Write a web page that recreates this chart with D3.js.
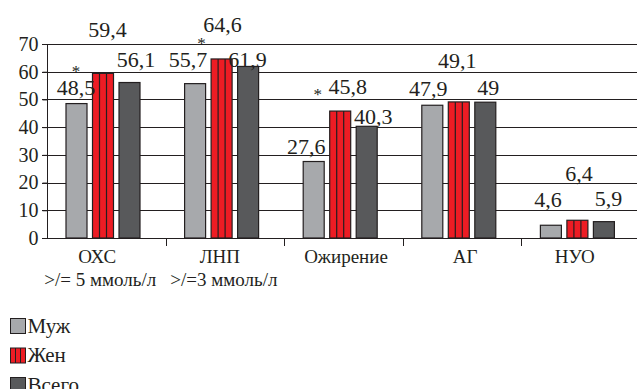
<!DOCTYPE html>
<html><head><meta charset="utf-8">
<script src="https://cdn.jsdelivr.net/npm/d3@7"></script>
<style>body{margin:0;background:#fff}svg{display:block}</style>
</head><body><div id="c"></div>
<script>
const categories = ["ОХС","ЛНП","Ожирение","АГ","НУО"];
const subLabels = [">/= 5 ммоль/л",">/=3 ммоль/л","","",""];
const seriesNames = ["Муж","Жен","Всего"];
const muzh = [48.5,55.7,27.6,47.9,4.6];
const zhen = [59.4,64.6,45.8,49.1,6.4];
const vsego = [56.1,61.9,40.3,49,5.9];
const yTicks = [0,10,20,30,40,50,60,70];
const valueLabels = [
  ["48,5","55,7","27,6","47,9","4,6"],
  ["59,4","64,6","45,8","49,1","6,4"],
  ["56,1","61,9","40,3","49","5,9"]
];
// layout: label nudges [dx, dy] relative to bar centre / bar top
const labelNudge = [
  [[-0.5,-15.6],[-7,-23.7],[-7.5,-14.5],[-4,-17],[-3,-26]],
  [[4.5,-44],[1,-34],[7.5,-24],[-1.5,-41],[1.5,-47]],
  [[6.5,-22.5],[-0.5,-6.5],[6.5,-10],[3,-14],[4.5,-23]]
];
// layout: category label horizontal nudges
const catNudge = [-9,-5,2.5,3,-6];
const subNudge = [-6,-1,0,0,0];
// significance stars: category, series, offset from that label centre
const stars = [
  {cat:0, s:0, dx:0, dy:-21},
  {cat:1, s:1, dx:-21, dy:14},
  {cat:2, s:1, dx:-30, dy:3}
];
const values = [muzh, zhen, vsego];
const fills = ["#a7a9ac","#ed1c24","#58595b"];
const FONT = "'Liberation Serif', Tinos, 'Times New Roman', 'DejaVu Serif', serif";
const INK = "#231f20";

const W=637,H=389;
const svg=d3.select("#c").append("svg").attr("width",W).attr("height",H)
  .attr("font-family",FONT).style("font-family",FONT);

const x0=d3.scaleBand().domain(categories).range([47,640]);
const x1=d3.scaleBand().domain(seriesNames).range([19,93]).paddingInner(0.2075);
const y=d3.scaleLinear().domain([0,70]).range([238,44]);

function T(sel,size){return sel.attr("font-family",FONT).style("font-family",FONT).style("font-size",size+"px").attr("fill",INK);}

// grid
svg.append("g").selectAll("line").data(yTicks).join("line")
  .attr("x1",42).attr("x2",W).attr("y1",d=>Math.round(y(d))+0.5).attr("y2",d=>Math.round(y(d))+0.5)
  .attr("stroke",INK).attr("stroke-width",1);
// y axis
const ya=svg.append("g").attr("transform","translate(47.5,0)")
  .call(d3.axisLeft(y).tickValues(yTicks).tickSize(5).tickPadding(4).tickFormat(d=>d));
ya.attr("font-family",FONT);
ya.select(".domain").attr("stroke",INK).attr("d","M0,"+y(70)+"V"+y(0));
ya.selectAll(".tick line").attr("stroke",INK);
T(ya.selectAll("text"),20);

// category ticks
svg.append("g").selectAll("line").data(categories.slice(1)).join("line")
  .attr("x1",d=>Math.round(x0(d))+0.5).attr("x2",d=>Math.round(x0(d))+0.5)
  .attr("y1",238).attr("y2",246).attr("stroke",INK);

// bars
const groups=svg.append("g").selectAll("g").data(categories).join("g")
  .attr("transform",d=>`translate(${x0(d)},0)`);
seriesNames.forEach((s,si)=>{
  groups.each(function(d,i){
    const g=d3.select(this), bx=x1(s), bw=x1.bandwidth(), top=y(values[si][i]);
    g.append("rect").attr("x",bx).attr("width",bw).attr("y",top).attr("height",y(0)-top)
      .attr("fill",fills[si]);
    if(si===1)[1,2].forEach(k=>g.append("line").attr("x1",bx+bw*k/3).attr("x2",bx+bw*k/3).attr("y1",top).attr("y2",y(0)).attr("stroke",INK).attr("stroke-width",1.2));
    g.append("rect").attr("x",bx).attr("width",bw).attr("y",top).attr("height",y(0)-top)
      .attr("fill","none").attr("stroke",INK).attr("stroke-width",1.2);
  });
});

// value labels
seriesNames.forEach((s,si)=>{
  categories.forEach((c,ci)=>{
    const cx=x0(c)+x1(s)+x1.bandwidth()/2+labelNudge[si][ci][0];
    const cy=y(values[si][ci])+labelNudge[si][ci][1];
    T(svg.append("text"),22).attr("x",cx).attr("y",cy).attr("dy","0.33em").attr("text-anchor","middle")
      .text(valueLabels[si][ci]);
  });
});
stars.forEach(st=>{
  const s=seriesNames[st.s], c=categories[st.cat];
  const cx=x0(c)+x1(s)+x1.bandwidth()/2+labelNudge[st.s][st.cat][0]+st.dx;
  const cy=y(values[st.s][st.cat])+labelNudge[st.s][st.cat][1]+st.dy;
  T(svg.append("text"),17).attr("x",cx).attr("y",cy).attr("dy","0.6em").attr("text-anchor","middle").text("*");
});

// category labels
T(svg.append("g").selectAll("text").data(categories).join("text"),19)
  .attr("x",(d,i)=>x0(d)+x0.bandwidth()/2+catNudge[i]).attr("y",256).attr("dy","0.35em").attr("text-anchor","middle")
  .text(d=>d);
T(svg.append("g").selectAll("text").data(categories).join("text"),19)
  .attr("x",(d,i)=>x0(d)+x0.bandwidth()/2+subNudge[i]).attr("y",279).attr("dy","0.35em").attr("text-anchor","middle")
  .text((d,i)=>subLabels[i]);

// legend
const lg=svg.append("g").selectAll("g").data(seriesNames).join("g")
  .attr("transform",(d,i)=>`translate(10.5,${318.5+i*29.5})`);
lg.append("rect").attr("width",15).attr("height",15).attr("fill",(d,i)=>fills[i]);
lg.filter((d,i)=>i===1).each(function(){
  const g=d3.select(this);
  [5,10].forEach(k=>g.append("line").attr("x1",k).attr("x2",k).attr("y1",0).attr("y2",15).attr("stroke",INK));
});
lg.append("rect").attr("width",15).attr("height",15).attr("fill","none").attr("stroke",INK);
T(lg.append("text"),21).attr("x",17).attr("y",14).text(d=>d);
</script></body></html>
